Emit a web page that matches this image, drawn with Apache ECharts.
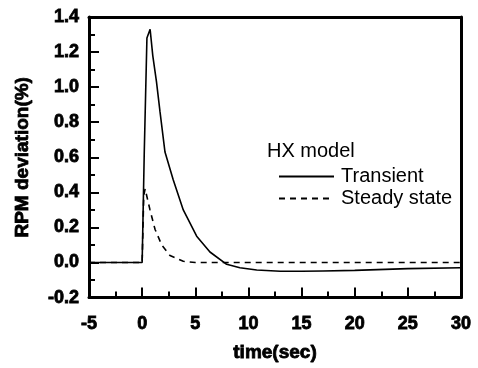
<!DOCTYPE html>
<html>
<head>
<meta charset="utf-8">
<script src="https://cdn.jsdelivr.net/npm/echarts@6/dist/echarts.min.js"></script>
<style>
html,body{margin:0;padding:0;background:#fff;}
#chart{width:478px;height:368px;}
</style>
</head>
<body>
<div id="chart"></div>
<script>
// Data
var transientTime  = [-5, 0, 0.2, 0.45, 0.75, 1.0, 1.35, 1.68, 2.15, 2.93, 3.87, 5.13, 6.38, 7.95, 9.2, 10.78, 13, 15, 17, 20, 25, 30];
var transientValue = [0, 0, 0.63, 1.28, 1.33, 1.18, 1.03, 0.86, 0.63, 0.47, 0.30, 0.15, 0.06, -0.01, -0.03, -0.043, -0.05, -0.05, -0.048, -0.045, -0.035, -0.03];
var steadyTime  = [-5, 0, 0.15, 0.28, 0.74, 1.21, 1.84, 2.62, 3.87, 5, 10, 15, 20, 25, 30];
var steadyValue = [0, 0, 0.38, 0.42, 0.30, 0.19, 0.10, 0.04, 0.007, 0.0, 0.0, 0.0, 0.0, 0.0, 0.0];
var xTicks = [-5, 0, 5, 10, 15, 20, 25, 30];
var yTicks = [-0.2, 0.0, 0.2, 0.4, 0.6, 0.8, 1.0, 1.2, 1.4];
var seriesNames = ['Transient', 'Steady state'];
var legendTitle = 'HX model';
var xTitle = 'time(sec)';
var yTitle = 'RPM deviation(%)';

function pairs(xs, ys) { return xs.map(function (x, i) { return [x, ys[i]]; }); }

var FONT = '"Liberation Sans", Arial, sans-serif';
var heavy = {fontFamily: FONT, fontWeight: 'bold', color: '#000', textBorderColor: '#000', textBorderWidth: 0.8};
var chart = echarts.init(document.getElementById('chart'), null, {renderer: 'canvas'});
var frameLine = {show: true, onZero: false, lineStyle: {color: '#000', width: 3}};
chart.setOption({
  backgroundColor: '#fff',
  animation: false,
  title: {
    text: legendTitle, left: 267, top: 141, padding: 0,
    textStyle: {fontFamily: FONT, fontSize: 20, fontWeight: 'normal', color: '#000'}
  },
  legend: {
    orient: 'vertical', left: 278, top: 166, padding: 0,
    itemWidth: 55, itemHeight: 14, itemGap: 1,
    data: seriesNames,
    itemStyle: {color: 'rgba(0,0,0,0)', borderWidth: 0, opacity: 0},
    textStyle: {fontFamily: FONT, fontSize: 20, color: '#000', lineHeight: 21, padding: [0,0,0,2]}
  },
  grid: {left: 89, right: 17, top: 17, bottom: 65, containLabel: false},
  xAxis: [{
    type: 'value', min: xTicks[0], max: xTicks[xTicks.length - 1], interval: 5,
    name: xTitle, nameLocation: 'middle', nameGap: 46,
    nameTextStyle: Object.assign({fontSize: 19}, heavy),
    axisLine: frameLine,
    axisTick: {show: true, inside: true, length: 10, lineStyle: {color: '#000', width: 2}},
    minorTick: {show: true, splitNumber: 2, length: 6, lineStyle: {color: '#000', width: 2}},
    axisLabel: Object.assign({margin: 17, fontSize: 18}, heavy),
    splitLine: {show: false}
  }, {
    type: 'value', position: 'top', min: xTicks[0], max: xTicks[xTicks.length - 1],
    axisLine: frameLine, axisTick: {show: false}, axisLabel: {show: false}, splitLine: {show: false}
  }],
  yAxis: [{
    type: 'value', min: yTicks[0], max: yTicks[yTicks.length - 1], interval: 0.2,
    name: yTitle, nameLocation: 'middle', nameGap: 57,
    nameTextStyle: Object.assign({fontSize: 19}, heavy),
    axisLine: frameLine,
    axisTick: {show: true, inside: true, length: 10, lineStyle: {color: '#000', width: 2}},
    minorTick: {show: true, splitNumber: 2, length: 6, lineStyle: {color: '#000', width: 2}},
    axisLabel: Object.assign({margin: 10, fontSize: 18,
      formatter: function (v) { return v.toFixed(1); }}, heavy),
    splitLine: {show: false}
  }, {
    type: 'value', position: 'right', min: yTicks[0], max: yTicks[yTicks.length - 1],
    axisLine: frameLine, axisTick: {show: false}, axisLabel: {show: false}, splitLine: {show: false}
  }],
  series: [{
    name: seriesNames[0], type: 'line', symbol: 'none', smooth: false,
    data: pairs(transientTime, transientValue),
    lineStyle: {color: '#000', width: 1.6, type: 'solid'}, itemStyle: {color: '#000'}
  }, {
    name: seriesNames[1], type: 'line', symbol: 'none', smooth: false,
    data: pairs(steadyTime, steadyValue),
    lineStyle: {color: '#000', width: 1.6, type: [6, 5]}, itemStyle: {color: '#000'}
  }]
});
</script>
</body>
</html>
